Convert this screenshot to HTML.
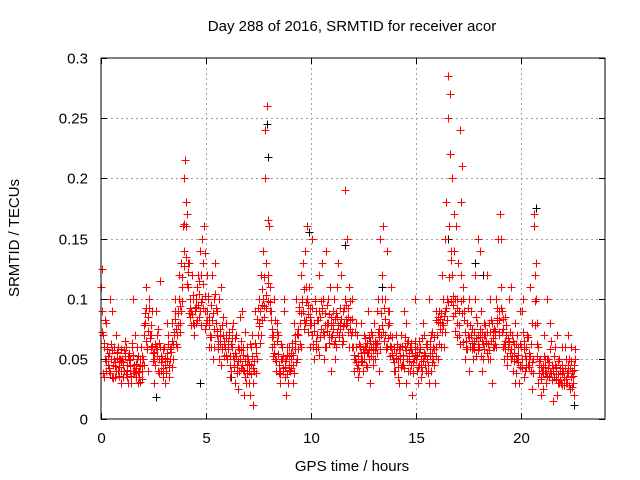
<!DOCTYPE html>
<html><head><meta charset="utf-8"><style>
body{margin:0;background:#fff;}
svg{display:block;font-family:"Liberation Sans",sans-serif;}
</style></head><body>
<svg id="chart" width="640" height="480" viewBox="0 0 640 480" xmlns="http://www.w3.org/2000/svg">
<text x="352" y="31" font-size="15" text-anchor="middle" fill="#000">Day 288 of 2016, SRMTID for receiver acor</text>
<text x="0" y="0" font-size="15" text-anchor="middle" transform="translate(19,238) rotate(-90)" fill="#000">SRMTID / TECUs</text>
<text x="352" y="471" font-size="15" text-anchor="middle" fill="#000">GPS time / hours</text>
<g id="grid"></g>
<g id="marks"></g>
<rect x="101" y="58" width="504" height="361" fill="none" stroke="#000" stroke-width="1"/>
<g id="ticks"></g>
</svg>
<script>
const xTicks=[0,5,10,15,20];
const yTicks=[0,0.05,0.1,0.15,0.2,0.25,0.3];
const yTickLabels=["0","0.05","0.1","0.15","0.2","0.25","0.3"];
const hours=[0,0.1,0.2,0.3,0.4,0.5,0.6,0.7,0.8,0.9,1,1.1,1.2,1.3,1.4,1.5,1.6,1.7,1.8,1.9,2,2.1,2.2,2.3,2.4,2.5,2.6,2.7,2.8,2.9,3,3.1,3.2,3.3,3.4,3.5,3.6,3.7,3.8,3.9,4,4.1,4.2,4.3,4.4,4.5,4.6,4.7,4.8,4.9,5,5.1,5.2,5.3,5.4,5.5,5.6,5.7,5.8,5.9,6,6.1,6.2,6.3,6.4,6.5,6.6,6.7,6.8,6.9,7,7.1,7.2,7.3,7.4,7.5,7.6,7.7,7.8,7.9,8,8.1,8.2,8.3,8.4,8.5,8.6,8.7,8.8,8.9,9,9.1,9.2,9.3,9.4,9.5,9.6,9.7,9.8,9.9,10,10.1,10.2,10.3,10.4,10.5,10.6,10.7,10.8,10.9,11,11.1,11.2,11.3,11.4,11.5,11.6,11.7,11.8,11.9,12,12.1,12.2,12.3,12.4,12.5,12.6,12.7,12.8,12.9,13,13.1,13.2,13.3,13.4,13.5,13.6,13.7,13.8,13.9,14,14.1,14.2,14.3,14.4,14.5,14.6,14.7,14.8,14.9,15,15.1,15.2,15.3,15.4,15.5,15.6,15.7,15.8,15.9,16,16.1,16.2,16.3,16.4,16.5,16.6,16.7,16.8,16.9,17,17.1,17.2,17.3,17.4,17.5,17.6,17.7,17.8,17.9,18,18.1,18.2,18.3,18.4,18.5,18.6,18.7,18.8,18.9,19,19.1,19.2,19.3,19.4,19.5,19.6,19.7,19.8,19.9,20,20.1,20.2,20.3,20.4,20.5,20.6,20.7,20.8,20.9,21,21.1,21.2,21.3,21.4,21.5,21.6,21.7,21.8,21.9,22,22.1,22.2,22.3,22.4,22.5];
const srmtidA=[.11,.07,.05,.06,.04,.09,.05,.04,.06,.05,
.05,.04,.06,.03,.05,.04,.07,.05,.04,.06,
.05,.08,.06,.1,.07,.05,.09,.04,.06,.05,
.06,.04,.07,.05,.08,.09,.06,.1,.13,.16,
.215,.17,.13,.09,.1,.08,.12,.09,.15,.16,
.08,.1,.07,.12,.06,.09,.05,.11,.07,.06,
.05,.07,.04,.08,.03,.06,.05,.09,.04,.03,
.05,.02,.07,.04,.06,.08,.12,.1,.2,.26,
.16,.09,.07,.05,.08,.04,.06,.09,.05,.03,
.04,.06,.08,.1,.07,.12,.09,.14,.16,.11,
.08,.06,.1,.07,.12,.09,.05,.14,.08,.11,
.07,.1,.06,.13,.08,.09,.19,.15,.11,.07,
.06,.05,.07,.04,.08,.05,.06,.09,.03,.07,
.08,.06,.1,.15,.12,.07,.14,.09,.06,.05,
.04,.06,.03,.07,.05,.08,.04,.06,.02,.05,
.05,.03,.06,.04,.07,.05,.1,.04,.06,.03,
.07,.09,.06,.1,.15,.285,.27,.2,.17,.16,
.13,.24,.21,.09,.06,.1,.07,.05,.12,.08,
.06,.09,.05,.07,.12,.05,.08,.06,.1,.15,
.17,.09,.05,.07,.06,.11,.04,.08,.05,.03,
.06,.1,.04,.07,.05,.08,.16,.13,.03,.05,
.04,.07,.03,.05,.08,.04,.06,.02,.05,.03,
.04,.06,.03,.05,.06,.02];
const srmtidB=[.125,.035,.08,.045,.1,.035,.06,.07,.04,.03,
.035,.065,.045,.055,.03,.1,.04,.06,.035,.045,
.045,.11,.04,.07,.09,.03,.06,.075,.115,.04,
.03,.08,.045,.06,.05,.1,.07,.12,.09,.2,
.18,.11,.085,.12,.07,.1,.095,.14,.1,.075,
.12,.06,.095,.05,.13,.07,.1,.045,.085,.08,
.06,.035,.075,.05,.07,.025,.085,.045,.02,.06,
.03,.06,.012,.09,.05,.1,.07,.14,.24,.165,
.11,.06,.1,.04,.07,.03,.05,.1,.02,.06,
.05,.03,.07,.05,.09,.06,.13,.08,.1,.06,
.15,.05,.09,.06,.085,.13,.07,.06,.1,.04,
.09,.05,.11,.07,.12,.065,.1,.08,.06,.1,
.04,.08,.035,.06,.05,.07,.045,.055,.065,.05,
.05,.09,.04,.07,.16,.1,.06,.08,.11,.04,
.07,.035,.05,.045,.09,.03,.065,.04,.055,.1,
.04,.065,.035,.08,.045,.06,.03,.07,.05,.09,
.05,.08,.12,.06,.18,.25,.22,.12,.14,.1,
.07,.18,.11,.05,.08,.04,.09,.06,.1,.15,
.14,.04,.08,.065,.05,.1,.03,.075,.06,.07,
.15,.06,.085,.045,.1,.05,.065,.03,.07,.09,
.09,.035,.06,.045,.11,.025,.17,.1,.06,.02,
.025,.05,.1,.035,.065,.015,.045,.07,.03,.06,
.03,.05,.07,.025,.04,.045];
const srmtidC=[.09,.06,.04,.055,.05,.045,.035,.055,.05,.04,
.045,.055,.035,.04,.06,.045,.035,.03,.05,.04,
.07,.065,.085,.06,.055,.045,.07,.05,.04,.035,
.045,.055,.035,.065,.07,.075,.09,.08,.11,.14,
.16,.13,.1,.08,.09,.11,.085,.12,.13,.09,
.09,.085,.06,.1,.08,.065,.075,.06,.065,.07,
.065,.045,.06,.055,.045,.04,.065,.06,.035,.045,
.04,.045,.03,.055,.07,.09,.095,.085,.13,.12,
.09,.075,.055,.065,.045,.05,.04,.035,.06,.045,
.055,.045,.065,.075,.08,.1,.075,.11,.095,.085,
.07,.08,.065,.09,.075,.1,.06,.08,.07,.085,
.08,.065,.085,.075,.07,.08,.095,.085,.075,.06,
.05,.06,.045,.055,.04,.06,.055,.05,.06,.045,
.065,.055,.075,.1,.065,.06,.09,.07,.055,.06,
.055,.05,.06,.045,.06,.05,.055,.045,.04,.065,
.06,.045,.05,.055,.04,.045,.065,.055,.045,.06,
.085,.075,.08,.09,.1,.16,.14,.095,.1,.08,
.09,.12,.1,.065,.07,.06,.075,.065,.085,.07,
.075,.065,.07,.055,.08,.065,.06,.07,.08,.09,
.11,.075,.065,.06,.055,.07,.055,.05,.06,.045,
.05,.065,.05,.055,.04,.05,.12,.08,.045,.035,
.045,.04,.05,.04,.045,.035,.04,.03,.04,.045,
.035,.03,.045,.035,.03,.05];
const srmtidD=[.072,.063,.048,.052,.038,.057,.044,.051,.043,.058,
.047,.052,.041,.049,.036,.053,.046,.039,.044,.033,
.078,.092,.073,.067,.061,.056,.052,.063,.047,.042,
.051,.048,.043,.056,.062,.083,.078,.094,.118,.162,
.135,.122,.092,.087,.078,.093,.104,.097,.112,.138,
.082,.078,.068,.088,.104,.073,.069,.058,.062,.053,
.058,.052,.067,.043,.052,.048,.057,.041,.048,.038,
.046,.037,.042,.063,.083,.077,.108,.094,.103,.113,
.097,.068,.062,.048,.054,.037,.042,.048,.053,.041,
.042,.053,.058,.071,.093,.088,.082,.097,.087,.078,
.092,.073,.058,.082,.068,.092,.078,.073,.087,.068,
.075,.083,.072,.068,.083,.077,.078,.092,.082,.072,
.053,.047,.052,.061,.047,.056,.063,.058,.052,.062,
.058,.063,.068,.088,.072,.083,.067,.061,.053,.047,
.051,.043,.052,.061,.042,.057,.048,.063,.047,.053,
.052,.056,.043,.048,.053,.062,.058,.072,.068,.082,
.081,.083,.072,.086,.092,.097,.132,.102,.073,.068,
.078,.098,.064,.072,.058,.068,.063,.058,.067,.062,
.068,.072,.058,.063,.062,.072,.067,.073,.084,.072,
.092,.083,.058,.052,.064,.058,.048,.062,.053,.043,
.042,.058,.043,.068,.052,.047,.098,.062,.038,.043,
.038,.043,.036,.047,.038,.042,.033,.037,.032,.038,
.028,.033,.038,.042,.027,.041];
const srmtidE=[.038,.082,.058,.042,.062,.034,.047,.056,.036,.048,
.057,.037,.052,.044,.063,.038,.042,.052,.031,.052,
.088,.058,.092,.078,.048,.062,.058,.038,.052,.058,
.038,.062,.058,.043,.072,.062,.088,.072,.098,.127,
.112,.088,.078,.103,.092,.082,.115,.078,.092,.102,
.102,.068,.082,.075,.092,.058,.062,.078,.052,.067,
.072,.062,.052,.067,.038,.058,.042,.053,.072,.052,
.062,.052,.048,.038,.092,.063,.082,.118,.092,.098,
.082,.052,.082,.072,.038,.062,.052,.043,.037,.052,
.063,.038,.047,.058,.062,.097,.108,.082,.072,.092,
.062,.098,.082,.053,.098,.072,.088,.095,.063,.078,
.062,.088,.078,.092,.062,.092,.083,.072,.098,.083,
.072,.042,.062,.048,.058,.067,.043,.068,.072,.057,
.062,.072,.058,.078,.092,.058,.078,.052,.068,.058,
.062,.058,.043,.053,.068,.063,.052,.058,.038,.058,
.043,.058,.067,.052,.062,.038,.052,.047,.058,.052,
.062,.088,.078,.072,.082,.118,.098,.086,.088,.092,
.062,.088,.082,.058,.092,.078,.058,.072,.052,.057,
.052,.062,.078,.072,.057,.082,.072,.062,.092,.082,
.072,.062,.078,.067,.072,.052,.062,.038,.047,.062,
.072,.052,.068,.043,.062,.038,.078,.052,.048,.033,
.052,.038,.042,.058,.032,.052,.043,.048,.042,.028,
.042,.038,.028,.048,.036,.058];
const blackHours=[2.6,4.7,7.9,7.95,9.9,11.6,13.4,16.5,17.8,20.7,22.5,6.2,18.2];
const blackValues=[.018,.03,.245,.218,.155,.145,.11,.15,.13,.175,.012,.035,.12];

const NS="http://www.w3.org/2000/svg";
const X0=101,X1=605,Y0=419,Y1=58;
function xs(h){return X0+(h/24)*(X1-X0);}
function ys(v){return Y0-(v/0.3)*(Y0-Y1);}
const grid=document.getElementById('grid');
const ticks=document.getElementById('ticks');
const marks=document.getElementById('marks');
const svg=document.getElementById('chart');
function line(p,x1,y1,x2,y2,st,dash){
  const l=document.createElementNS(NS,'line');
  l.setAttribute('x1',x1);l.setAttribute('y1',y1);l.setAttribute('x2',x2);l.setAttribute('y2',y2);
  l.setAttribute('stroke',st);l.setAttribute('stroke-width','1');
  if(dash)l.setAttribute('stroke-dasharray',dash);
  p.appendChild(l);return l;
}
function txt(x,y,s,anchor){
  const t=document.createElementNS(NS,'text');
  t.setAttribute('x',x);t.setAttribute('y',y);t.setAttribute('font-size','15');
  t.setAttribute('text-anchor',anchor);t.setAttribute('fill','#000');
  t.textContent=s;svg.appendChild(t);return t;
}
xTicks.forEach(h=>{
  const x=Math.round(xs(h))+0.5;
  if(h>0){const g=line(grid,x,Y1,x,Y0,'#a0a0a0','2,3');
  
  }
  line(ticks,x,Y0,x,Y0-6,'#000');line(ticks,x,Y1,x,Y1+6,'#000');
  const t=txt(x,443,String(h),'middle');
  
  
});
yTicks.forEach((v,i)=>{
  const y=Math.round(ys(v))+0.5;
  if(v>0&&v<0.3){const g=line(grid,X0,y,X1,y,'#a0a0a0','2,3');
  
  }
  line(ticks,X0,y,X0+6,y,'#000');line(ticks,X1,y,X1-6,y,'#000');
  const t=txt(88,y+5,yTickLabels[i],'end');
  
  
});
function plus(h,v,col){
  const x=Math.round(xs(h))+0.5,y=Math.round(ys(v))+0.5;
  const p=document.createElementNS(NS,'path');
  p.setAttribute('d','M'+(x-4)+' '+y+'H'+(x+4)+'M'+x+' '+(y-4)+'V'+(y+4));
  p.setAttribute('stroke',col);p.setAttribute('stroke-width','1');p.setAttribute('fill','none');
  
  
  marks.appendChild(p);
}
blackHours.forEach((h,i)=>plus(h,blackValues[i],'#000'));
const seriesOffsets=[0,0.03,0.06,0.045,0.075];
[srmtidA,srmtidB,srmtidC,srmtidD,srmtidE].forEach((arr,k)=>{
  hours.forEach((h,i)=>{ if(arr[i]!==undefined) plus(h+seriesOffsets[k],arr[i],'#ff0000'); });
});
</script>
</body></html>
